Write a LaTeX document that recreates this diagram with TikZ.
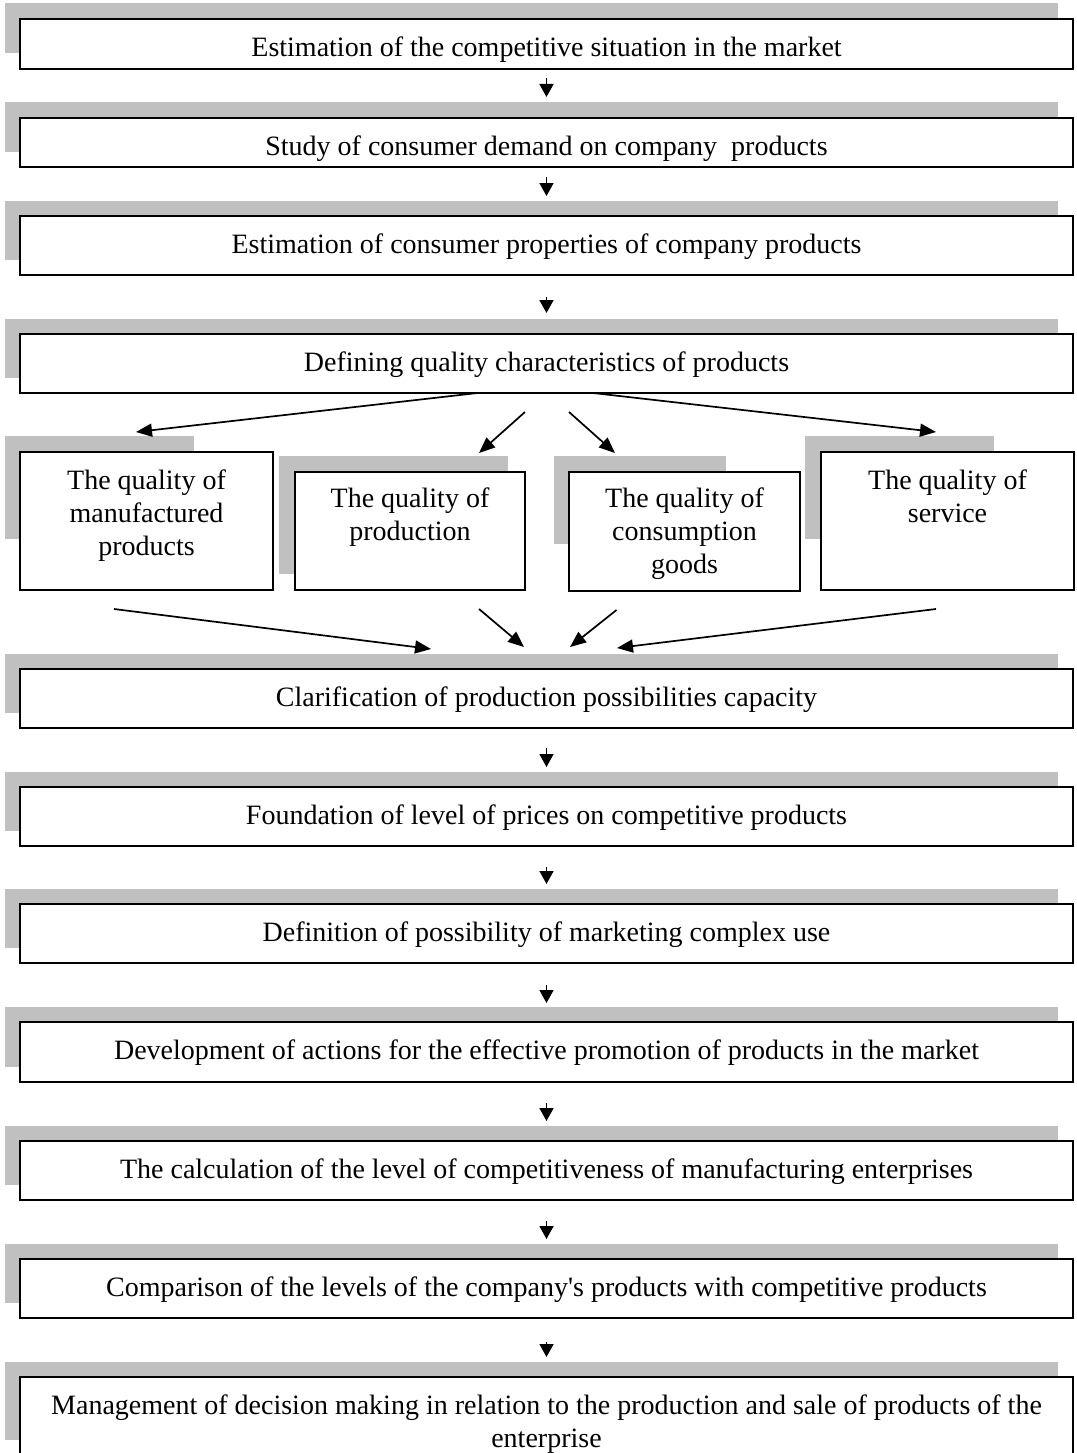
\documentclass[tikz,border=0pt]{standalone}
\usepackage{fontspec}
\setmainfont{Liberation Serif}
\usetikzlibrary{arrows.meta,calc}
\definecolor{shadowgray}{HTML}{C0C0C0}
\tikzset{
  box/.style={draw, line width=1.4pt, fill=white, inner sep=0pt, outer sep=0pt, rectangle},
  lbl/.style={anchor=north, inner sep=0pt, align=center},
  shade/.style={fill=shadowgray},
  arr/.style={line width=1.6pt, -{Triangle[length=13pt,width=14pt]}},
  darr/.style={line width=1.7pt, -{Triangle[length=16pt,width=13pt]}}
}
\newcommand\flowbox[4]{%
  \fill[shade] (5,#2-15.5) rectangle (1058,#3-15.5);
  \node[box, minimum width=1053pt, minimum height={(#3-#2)*1pt}] (#1) at (546.5,{(#2+#3)/2}) {};
  \node[lbl] (#1t) at ([yshift=-14pt]#1.north) {\strut #4};
}
\begin{document}
\begin{tikzpicture}[x=1pt,y=-1pt,font=\fontsize{28}{33}\selectfont]
\useasboundingbox (0,0) rectangle (1076,1453);

\flowbox{b1}{19}{69}{Estimation of the competitive situation in the market}
\flowbox{b2}{118}{167}{Study of consumer demand on company~ products}
\flowbox{b3}{216}{275}{Estimation of consumer properties of company products}
\flowbox{b4}{334}{393}{Defining quality characteristics of products}

% four quality boxes
\fill[shade] (5,436) rectangle (194,539);
\node[box, minimum width=253pt, minimum height=138pt] (bA) at (146.5,521) {};
\node[lbl] (tA) at ([yshift=-14pt]bA.north) {\strut The quality of\\manufactured\\products};

\fill[shade] (279,456) rectangle (508,574);
\node[box, minimum width=230pt, minimum height=118pt] (bB) at (410,531) {};
\node[lbl] (tB) at ([yshift=-12pt]bB.north) {\strut The quality of\\production};

\fill[shade] (554,456) rectangle (726,544);
\node[box, minimum width=231pt, minimum height=119pt] (bC) at (684.5,531.5) {};
\node[lbl] (tC) at ([yshift=-12pt]bC.north) {\strut The quality of\\consumption\\goods};

\fill[shade] (805,436) rectangle (994,539);
\node[box, minimum width=253pt, minimum height=138pt] (bD) at (947.5,521) {};
\node[lbl] (tD) at ([yshift=-14pt]bD.north) {\strut The quality of\\service};

\flowbox{b5}{669}{728}{Clarification of production possibilities capacity}
\flowbox{b6}{787}{846}{Foundation of level of prices on competitive products}
\flowbox{b7}{904}{963}{Definition of possibility of marketing complex use}
\flowbox{b8}{1022}{1082}{Development of actions for the effective promotion of products in the market}
\flowbox{b9}{1141}{1200}{The calculation of the level of competitiveness of manufacturing enterprises}
\flowbox{b10}{1259}{1318}{Comparison of the levels of the company\textquotesingle s products with competitive products}
\flowbox{b11}{1377}{1455}{Management of decision making in relation to the production and sale of products of the\\enterprise}

% vertical arrows
\draw[arr, shorten <=9pt, shorten >=21pt] (b1.south) -- (b2.north);
\draw[arr, shorten <=10pt, shorten >=20pt] (b2.south) -- (b3.north);
\draw[arr, shorten <=22pt, shorten >=21pt] (b3.south) -- (b4.north);
\draw[arr, shorten <=20pt, shorten >=20pt] (b5.south) -- (b6.north);
\draw[arr, shorten <=21pt, shorten >=20pt] (b6.south) -- (b7.north);
\draw[arr, shorten <=22pt, shorten >=19pt] (b7.south) -- (b8.north);
\draw[arr, shorten <=21pt, shorten >=20pt] (b8.south) -- (b9.north);
\draw[arr, shorten <=21pt, shorten >=20pt] (b9.south) -- (b10.north);
\draw[arr, shorten <=24pt, shorten >=20pt] (b10.south) -- (b11.north);

% fan-out arrows
\draw[darr] ([xshift=-69pt]b4.south) -- ([xshift=-10.5pt,yshift=20pt]bA.north);
\draw[darr] ([xshift=-21.5pt,yshift=-19pt]b4.south) -- ([xshift=69pt,yshift=19pt]bB.north);
\draw[darr] ([xshift=22.5pt,yshift=-19pt]b4.south) -- ([xshift=-69.5pt,yshift=19pt]bC.north);
\draw[darr] ([xshift=46.5pt]b4.south) -- ([xshift=-11.5pt,yshift=20pt]bD.north);

% fan-in arrows
\draw[darr] ([xshift=-32.5pt,yshift=-19pt]bA.south) -- ([xshift=-115.5pt,yshift=20pt]b5.north);
\draw[darr] ([xshift=69pt,yshift=-19pt]bB.south) -- ([xshift=-22.5pt,yshift=22pt]b5.north);
\draw[darr] ([xshift=-68pt,yshift=-19pt]bC.south) -- ([xshift=23.5pt,yshift=22pt]b5.north);
\draw[darr] ([xshift=-11.5pt,yshift=-19pt]bD.south) -- ([xshift=70.5pt,yshift=21pt]b5.north);
\end{tikzpicture}
\end{document}
